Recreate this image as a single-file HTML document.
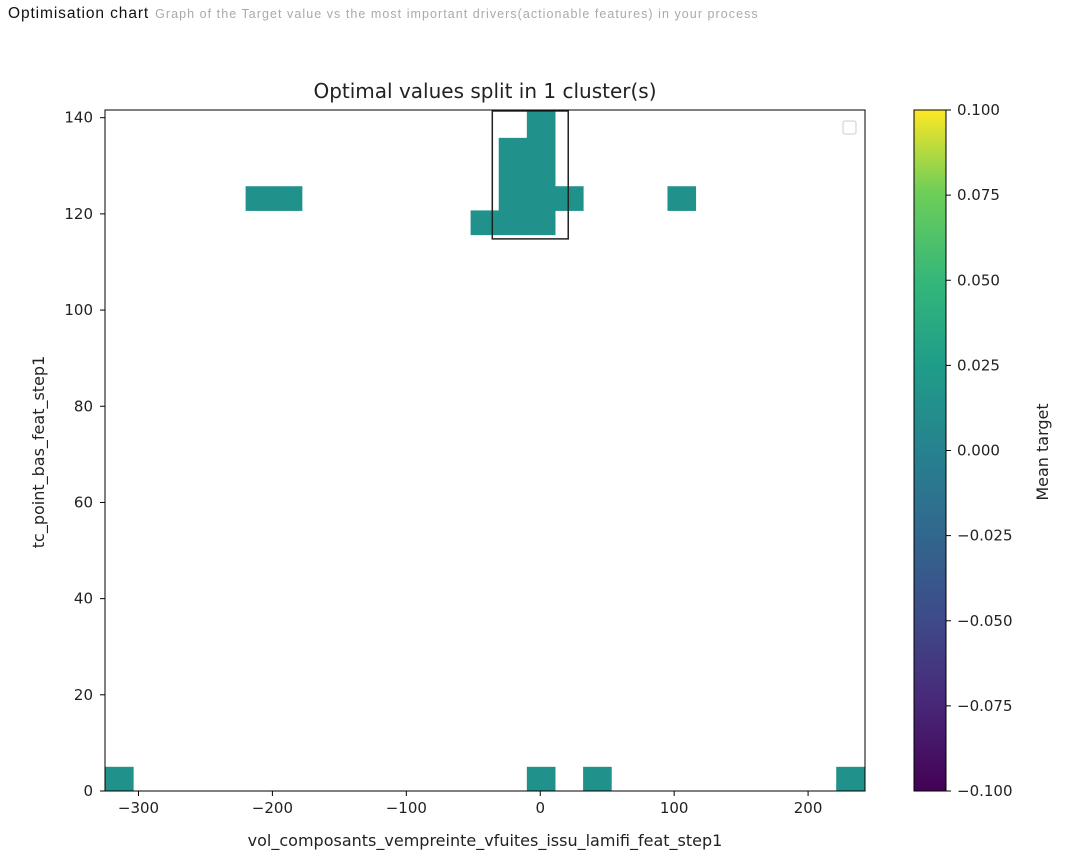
<!DOCTYPE html>
<html><head><meta charset="utf-8"><style>
body{margin:0;background:#fff;width:1066px;height:859px;overflow:hidden;font-family:"Liberation Sans",sans-serif}
#hdr{position:absolute;left:8px;top:5px;white-space:nowrap}
#hdr .t{font-size:15.5px;color:#111;letter-spacing:0.9px}
#hdr .s{font-size:12.5px;color:#aaa;margin-left:6px;letter-spacing:1.05px}
svg text{font-family:"DejaVu Sans",sans-serif;fill:#222}
</style></head><body>
<div id="hdr"><span class="t">Optimisation chart</span><span class="s">Graph of the Target value vs the most important drivers(actionable features) in your process</span></div>
<svg id="chart" width="1066" height="859" style="position:absolute;left:0;top:0">
<defs><linearGradient id="vir" x1="0" y1="1" x2="0" y2="0">
<stop offset="0" stop-color="#440154"/><stop offset="0.13" stop-color="#482878"/><stop offset="0.25" stop-color="#3e4a89"/><stop offset="0.38" stop-color="#31688e"/><stop offset="0.5" stop-color="#26828e"/><stop offset="0.63" stop-color="#1f9e89"/><stop offset="0.75" stop-color="#35b779"/><stop offset="0.88" stop-color="#6ece58"/><stop offset="1" stop-color="#fde725"/></linearGradient></defs>
</svg>
<script>
// data
const xBinStart = -325, xBinWidth = 21, yBinHeight = 5.03;
const cellXBins = [0,15,17,26, 5,6, 13, 14,14,14,14, 15,15,15,15,15,15, 16, 20];
const cellYBins = [0,0,0,0,   24,24, 23, 23,24,25,26, 23,24,25,26,27,28, 24, 24];
const cellValues = [0,0,0,0, 0,0, 0, 0,0,0,0, 0,0,0,0,0,0, 0, 0];
const clusterBox = [-35.8, 20.9, 114.8, 141.4]; // xmin,xmax,ymin,ymax
const xTicks = [-300,-200,-100,0,100,200];
const yTicks = [0,20,40,60,80,100,120,140];
const cTicks = [-0.1,-0.075,-0.05,-0.025,0,0.025,0.05,0.075,0.1];
const cTickLabels = ["\u22120.100","\u22120.075","\u22120.050","\u22120.025","0.000","0.025","0.050","0.075","0.100"];

const L=105,R=865,T=110,B=791;
const xmin=-325,xmax=242.5,ymin=0,ymax=141.6;
const sx=v=>L+(v-xmin)/(xmax-xmin)*(R-L);
const sy=v=>B-(v-ymin)/(ymax-ymin)*(B-T);
const cy=v=>791-(v+0.1)/0.2*(791-110);
const svg=document.getElementById('chart');
const NS='http://www.w3.org/2000/svg';
function mk(t,a,p){const e=document.createElementNS(NS,t);for(const k in a)e.setAttribute(k,a[k]);(p||svg).appendChild(e);return e;}
function viridisMid(v){return '#21918c';}
const clip=mk('clipPath',{id:'pc'});mk('rect',{x:L,y:T,width:R-L,height:B-T},clip);
const g=mk('g',{'clip-path':'url(#pc)'});
cellXBins.forEach((xb,i)=>{
  const x0=xBinStart+xb*xBinWidth,x1=x0+xBinWidth,y0=cellYBins[i]*yBinHeight,y1=y0+yBinHeight;
  const r=mk('rect',{x:sx(x0),y:sy(y1),width:sx(x1)-sx(x0)+0.5,height:sy(y0)-sy(y1)+0.5,fill:viridisMid(cellValues[i])},g);
  
  
});
const box=mk('rect',{x:sx(clusterBox[0]),y:sy(clusterBox[3]),width:sx(clusterBox[1])-sx(clusterBox[0]),height:sy(clusterBox[2])-sy(clusterBox[3]),fill:'none',stroke:'#222','stroke-width':1.5});


const frame=mk('rect',{x:L,y:T,width:R-L,height:B-T,fill:'none',stroke:'#000','stroke-width':1});


xTicks.forEach(v=>{const x=sx(v);mk('line',{x1:x,x2:x,y1:B,y2:B+5,stroke:'#000'});
  const t=mk('text',{x:x,y:B+22,'text-anchor':'middle','font-size':15});t.textContent=v<0?'\u2212'+(-v):v;
  
  });
yTicks.forEach(v=>{const y=sy(v);mk('line',{x1:L-5,x2:L,y1:y,y2:y,stroke:'#000'});
  const t=mk('text',{x:L-12,y:y+5,'text-anchor':'end','font-size':15});t.textContent=v;
  
  });
const lg=mk('rect',{x:843,y:121,width:13,height:13,rx:2,fill:'#fff',stroke:'#ccc'});


const ti=mk('text',{x:(L+R)/2,y:98,'text-anchor':'middle','font-size':20});ti.textContent='Optimal values split in 1 cluster(s)';


const xt=mk('text',{x:(L+R)/2,y:846,'text-anchor':'middle','font-size':16});xt.textContent='vol_composants_vempreinte_vfuites_issu_lamifi_feat_step1';


const yt=mk('text',{x:44,y:452,'text-anchor':'middle','font-size':16,transform:'rotate(-90 44 452)'});yt.textContent='tc_point_bas_feat_step1';


const cb=mk('rect',{x:914,y:110,width:32,height:681,fill:'url(#vir)',stroke:'#000','stroke-width':1});


cTicks.forEach((v,i)=>{const y=cy(v);mk('line',{x1:946,x2:951,y1:y,y2:y,stroke:'#000'});
  const t=mk('text',{x:957,y:y+5,'font-size':15});t.textContent=cTickLabels[i];
  
  });
const ct=mk('text',{x:1048,y:452,'text-anchor':'middle','font-size':16,transform:'rotate(-90 1048 452)'});ct.textContent='Mean target';


</script>
</body></html>
